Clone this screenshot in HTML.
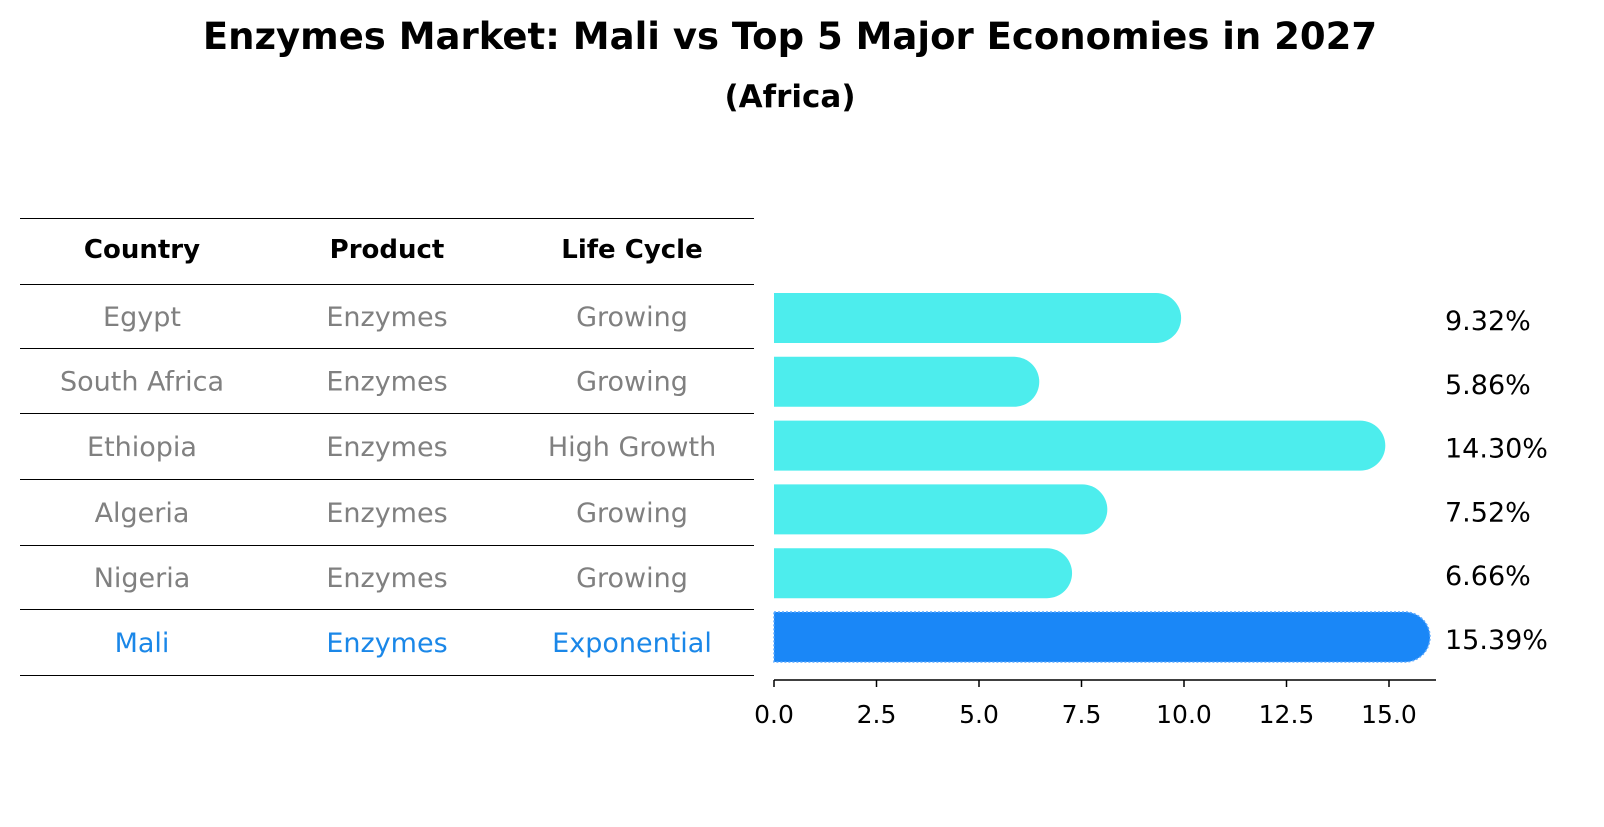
<!DOCTYPE html>
<html><head><meta charset="utf-8"><style>
body{margin:0;background:#fff;font-family:"DejaVu Sans","Liberation Sans",sans-serif;}
</style></head><body>
<svg width="1604" height="823" xmlns="http://www.w3.org/2000/svg" font-family="DejaVu Sans, Liberation Sans, sans-serif">
<text x="790" y="49" text-anchor="middle" font-size="37" font-weight="bold">Enzymes Market: Mali vs Top 5 Major Economies in 2027</text>
<text x="790" y="107" text-anchor="middle" font-size="31" font-weight="bold">(Africa)</text>
<g id="table"></g>
<g id="bars"></g>
</svg>
<script>
const countries=["Egypt","South Africa","Ethiopia","Algeria","Nigeria","Mali"];
const products=["Enzymes","Enzymes","Enzymes","Enzymes","Enzymes","Enzymes"];
const lifeCycles=["Growing","Growing","High Growth","Growing","Growing","Exponential"];
const values=[9.32,5.86,14.30,7.52,6.66,15.39];
const ticks=[0,2.5,5,7.5,10,12.5,15];
const NS="http://www.w3.org/2000/svg";
function mk(tag,attrs,parent,text){const e=document.createElementNS(NS,tag);for(const k in attrs)e.setAttribute(k,attrs[k]);if(text!==undefined)e.textContent=text;parent.appendChild(e);return e;}
const tbl=document.getElementById('table');
const lineYs=[218,284,348,413,479,545,609,675];
lineYs.forEach(y=>{const l=mk('line',{x1:20,x2:754,y1:y+0.5,y2:y+0.5,stroke:'#000','stroke-width':1},tbl);

});
const colX=[142,387,632];
["Country","Product","Life Cycle"].forEach((h,i)=>{const t=mk('text',{x:colX[i],y:258,'text-anchor':'middle','font-size':26,'font-weight':'bold'},tbl,h);

});
countries.forEach((c,r)=>{const y=(lineYs[r+1]+lineYs[r+2])/2+10;const col=r===countries.length-1?'#1a87e8':'#808080';
[c,products[r],lifeCycles[r]].forEach((v,i)=>{const t=mk('text',{x:colX[i],y:y,'text-anchor':'middle','font-size':27,fill:col},tbl,v);

});});
const g=document.getElementById('bars');
const x0=774,scale=41,axisY=680,bh=50;
const xs=v=>x0+v*scale;
const yc=i=>318+i*63.8;
values.forEach((v,i)=>{const mali=i===values.length-1;const col=mali?'#1a87f7':'#4deded';
const end=xs(v);
const p=mk('path',{d:`M${x0},${yc(i)-bh/2} L${end},${yc(i)-bh/2} A${bh/2},${bh/2} 0 0 1 ${end},${yc(i)+bh/2} L${x0},${yc(i)+bh/2} Z`,fill:col},g);
if(mali){p.setAttribute('stroke','#5aa8ff');p.setAttribute('stroke-dasharray','2,2');p.setAttribute('stroke-width','1.5');}


const t=mk('text',{x:1445,y:yc(i)+12,'font-size':27},g,v.toFixed(2)+'%');

});
const ax=mk('line',{x1:x0,x2:1436,y1:axisY,y2:axisY,stroke:'#000','stroke-width':1.5},g);


ticks.forEach(t=>{const tk=mk('line',{x1:xs(t),x2:xs(t),y1:axisY,y2:axisY+7,stroke:'#000','stroke-width':1.5},g);


const l=mk('text',{x:xs(t),y:axisY+43,'text-anchor':'middle','font-size':25},g,t.toFixed(1));

});
</script>
</body></html>
